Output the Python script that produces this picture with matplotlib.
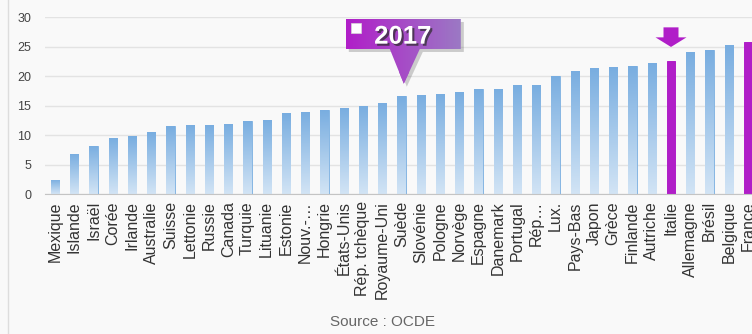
import matplotlib
matplotlib.use("Agg")
import matplotlib.pyplot as plt
import matplotlib.transforms as mtransforms
import matplotlib.patheffects as pe
from matplotlib.patches import Polygon, Rectangle
from matplotlib.lines import Line2D
from matplotlib.colors import LinearSegmentedColormap
import numpy as np

# Data -------------------------------------------------------------------
countries = [
    "Mexique", "Islande", "Israël", "Corée", "Irlande", "Australie", "Suisse",
    "Lettonie", "Russie", "Canada", "Turquie", "Lituanie", "Estonie",
    "Nouv.-…", "Hongrie", "États-Unis", "Rép. tchèque", "Royaume-Uni",
    "Suède", "Slovénie", "Pologne", "Norvège", "Espagne", "Danemark",
    "Portugal", "Rép…", "Lux.", "Pays-Bas", "Japon", "Grèce", "Finlande",
    "Autriche", "Italie", "Allemagne", "Brésil", "Belgique", "France",
]
values = [
    2.5, 6.8, 8.2, 9.6, 9.8, 10.5, 11.5,
    11.7, 11.7, 11.95, 12.5, 12.6, 13.7,
    13.9, 14.3, 14.7, 15.0, 15.5,
    16.6, 16.9, 17.05, 17.3, 17.85, 17.85,
    18.5, 18.5, 20.1, 20.9, 21.4, 21.6, 21.8,
    22.3, 22.6, 24.1, 24.45, 25.3, 25.85,
]
highlighted = ["Italie", "France"]
marked_country = "Italie"
y_ticks = [0, 5, 10, 15, 20, 25, 30]
year_label = "2017"
source_label = "Source : OCDE"

# Styling ----------------------------------------------------------------
plt.rcParams["font.family"] = ["Liberation Sans", "DejaVu Sans"]
BG = "#f9f9f9"
PURPLE = "#b01ec8"
W, H = 752, 334

fig = plt.figure(figsize=(W / 100, H / 100), dpi=100)
fig.patch.set_facecolor(BG)
ax = fig.add_axes([45 / W, (H - 194.3) / H, (W - 45) / W, 177 / H])
ax.set_facecolor(BG)

x = np.arange(len(countries))
bar_w = 0.42
face = [PURPLE if c in highlighted else "#9cc4ea" for c in countries]
edge = [PURPLE if c in highlighted else "#86b6e3" for c in countries]
bars = ax.bar(x, values, width=bar_w, color=face, edgecolor=edge,
              linewidth=0.7, zorder=2)

# vertical gradient fill on the regular bars
blue_cmap = LinearSegmentedColormap.from_list("bar_blue", ["#d2e4f5", "#78ade0"])
grad = np.linspace(0, 1, 128).reshape(-1, 1)
for bar, name in zip(bars, countries):
    if name in highlighted:
        continue
    x0, w, h = bar.get_x(), bar.get_width(), bar.get_height()
    im = ax.imshow(grad, extent=(x0, x0 + w, 0, h), origin="lower",
                   cmap=blue_cmap, aspect="auto", interpolation="bilinear",
                   zorder=2.5)
    im.set_clip_path(bar)

# Axes -------------------------------------------------------------------
ax.set_yticks(y_ticks)
ax.set_xticks(x)
ax.set_xticklabels(countries, rotation=90, fontsize=11.5, color="#333333")
ax.tick_params(axis="x", length=0, pad=5)
ax.tick_params(axis="y", length=0, pad=10, labelsize=9, labelcolor="#444444")
ax.yaxis.grid(True, color="#e3e3e3", linewidth=1)
ax.set_axisbelow(True)
for side in ("top", "right", "left"):
    ax.spines[side].set_visible(False)
ax.spines["bottom"].set_color("#c4c4c4")
ax.spines["bottom"].set_zorder(3)


def anchored(xd, yd):
    """Offsets in inches measured from a data point."""
    return fig.dpi_scale_trans + mtransforms.ScaledTranslation(xd, yd, ax.transData)


# Year callout -----------------------------------------------------------
callout_tr = anchored(18.12, 18.75)
left, right, top = -0.58, 0.57, 0.647
callout_pts = [(left, 0.347), (-0.14, 0.347), (0.0, 0.0), (0.16, 0.347),
               (right, 0.347), (right, top), (left, top)]
shadow_tr = callout_tr + mtransforms.ScaledTranslation(0.03, -0.03, fig.dpi_scale_trans)
ax.add_patch(Polygon(callout_pts, closed=True, transform=shadow_tr,
                     facecolor="#555555", alpha=0.28, edgecolor="none",
                     zorder=4, clip_on=False))
callout = Polygon(callout_pts, closed=True, transform=callout_tr,
                  facecolor="none", edgecolor="none", zorder=5, clip_on=False)
ax.add_patch(callout)
purple_cmap = LinearSegmentedColormap.from_list("callout", ["#b01ec8", "#9b78c4"])
n_strips = 120
edges = np.linspace(left, right, n_strips + 1)
for i in range(n_strips):
    strip = Rectangle((edges[i], 0.0), edges[i + 1] - edges[i] + 0.004, top,
                      transform=callout_tr,
                      facecolor=purple_cmap(i / (n_strips - 1)),
                      edgecolor="none", zorder=5)
    ax.add_patch(strip)
    strip.set_clip_path(callout)
ax.add_patch(Rectangle((-0.53, 0.51), 0.10, 0.097, transform=callout_tr,
                       facecolor="white", edgecolor="#d8d8d8", linewidth=0.5,
                       zorder=6, clip_on=False))
ax.text(-0.01, 0.495, year_label, transform=callout_tr, ha="center",
        va="center_baseline", fontsize=18.5, fontweight="bold", color="white",
        zorder=7, clip_on=False,
        path_effects=[pe.withSimplePatchShadow(offset=(1.5, -1.5),
                                               shadow_rgbFace="#2a2a2a",
                                               alpha=0.7)])

# Down arrow above the marked country ------------------------------------
mi = countries.index(marked_country)
arrow_tr = anchored(x[mi], values[mi])
arrow_pts = [(0.0, 0.14), (-0.155, 0.236), (-0.075, 0.236), (-0.075, 0.336),
             (0.075, 0.336), (0.075, 0.236), (0.155, 0.236)]
ax.add_patch(Polygon(arrow_pts, closed=True, transform=arrow_tr,
                     facecolor=PURPLE, edgecolor="none", zorder=5,
                     clip_on=False))

ax.set_xlim(-10 / 19.25, (W - 55) / 19.25)
ax.set_ylim(0, 30)

# Frame line and source note ---------------------------------------------
fig.add_artist(Line2D([7.5 / W, 7.5 / W], [0, 1], transform=fig.transFigure,
                      color="#dddddd", linewidth=1))
fig.text(383 / W, 1 - 322 / H, source_label, ha="center", va="center",
         fontsize=11, color="#666666")

fig.savefig("out.png", dpi=100, facecolor=BG)
